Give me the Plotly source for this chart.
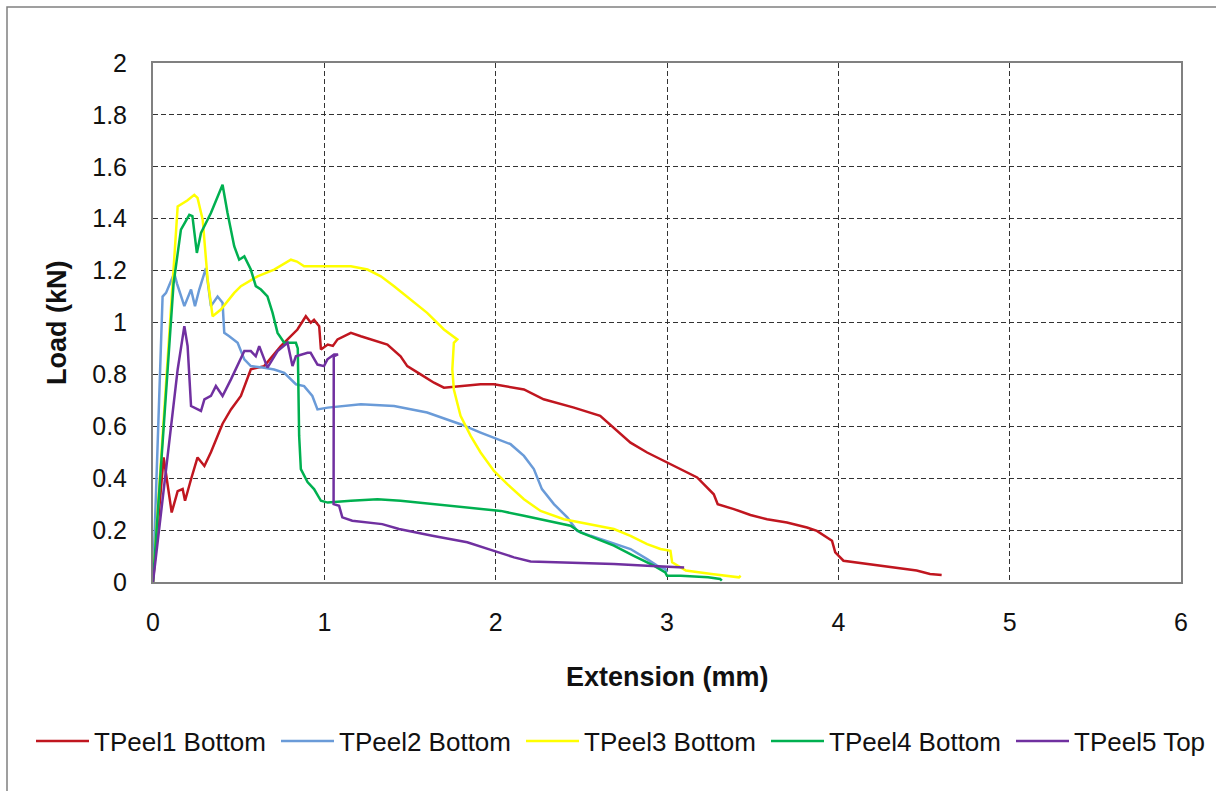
import plotly.graph_objects as go

# Load vs extension for five T-peel specimens
series_names = ["TPeel1 Bottom", "TPeel2 Bottom", "TPeel3 Bottom", "TPeel4 Bottom", "TPeel5 Top"]
series_colors = ["#C0161F", "#6A9BD8", "#FFFF00", "#00B050", "#7030A0"]

tpeel1_x = [0, 0.062, 0.109, 0.144, 0.173, 0.187, 0.222, 0.26, 0.30, 0.338, 0.406, 0.455, 0.513,
            0.571, 0.649, 0.746, 0.843, 0.892, 0.921, 0.94, 0.97, 0.98, 1.02, 1.05, 1.077, 1.155,
            1.213, 1.27, 1.368, 1.445, 1.484, 1.562, 1.64, 1.698, 1.795, 1.912, 1.99, 2.165, 2.28,
            2.457, 2.61, 2.69, 2.787, 2.884, 3.0, 3.176, 3.273, 3.296, 3.39, 3.487, 3.584, 3.7,
            3.817, 3.875, 3.963, 3.982, 4.03, 4.127, 4.263, 4.36, 4.457, 4.535, 4.603]
tpeel1_y = [0, 0.48, 0.268, 0.35, 0.358, 0.313, 0.396, 0.48, 0.447, 0.5, 0.61, 0.665, 0.717,
            0.82, 0.832, 0.909, 0.973, 1.024, 0.999, 1.01, 0.986, 0.896, 0.915, 0.91, 0.935, 0.96,
            0.947, 0.935, 0.915, 0.87, 0.832, 0.8, 0.768, 0.749, 0.755, 0.762, 0.762, 0.742, 0.704,
            0.672, 0.64, 0.595, 0.537, 0.499, 0.46, 0.403, 0.338, 0.3, 0.281, 0.258, 0.242, 0.229,
            0.21, 0.197, 0.159, 0.114, 0.082, 0.073, 0.06, 0.053, 0.044, 0.031, 0.027]

tpeel2_x = [0, 0.056, 0.076, 0.1, 0.124, 0.14, 0.183, 0.222, 0.245, 0.27, 0.309, 0.338, 0.377,
            0.406, 0.416, 0.445, 0.494, 0.533, 0.571, 0.649, 0.707, 0.766, 0.805, 0.834, 0.882,
            0.93, 0.96, 1.02, 1.213, 1.407, 1.6, 1.717, 1.795, 1.912, 1.99, 2.087, 2.165, 2.223,
            2.27, 2.34, 2.418, 2.476, 2.554, 2.67, 2.787, 2.884, 2.942, 2.99, 3.0]
tpeel2_y = [0, 1.10, 1.114, 1.15, 1.19, 1.15, 1.063, 1.127, 1.063, 1.127, 1.21, 1.063, 1.10,
            1.076, 0.96, 0.947, 0.922, 0.858, 0.832, 0.826, 0.819, 0.806, 0.781, 0.762, 0.755,
            0.717, 0.665, 0.672, 0.685, 0.678, 0.653, 0.627, 0.608, 0.576, 0.556, 0.531, 0.486,
            0.435, 0.358, 0.3, 0.249, 0.197, 0.178, 0.153, 0.127, 0.088, 0.063, 0.05, 0.037]

tpeel3_x = [0, 0.144, 0.2, 0.241, 0.26, 0.29, 0.319, 0.348, 0.396, 0.474, 0.513, 0.61, 0.707,
            0.805, 0.84, 0.882, 1.018, 1.155, 1.252, 1.33, 1.407, 1.504, 1.6, 1.698, 1.776, 1.756,
            1.747, 1.756, 1.795, 1.854, 1.912, 1.99, 2.068, 2.165, 2.262, 2.398, 2.554, 2.69,
            2.787, 2.884, 2.962, 3.02, 3.03, 3.11, 3.26, 3.42, 3.43]
tpeel3_y = [0, 1.447, 1.47, 1.492, 1.48, 1.396, 1.165, 1.024, 1.05, 1.114, 1.14, 1.178, 1.204,
            1.242, 1.235, 1.217, 1.217, 1.217, 1.204, 1.178, 1.14, 1.088, 1.037, 0.973, 0.935, 0.922,
            0.819, 0.742, 0.64, 0.563, 0.499, 0.428, 0.377, 0.319, 0.274, 0.242, 0.223, 0.204,
            0.178, 0.146, 0.127, 0.12, 0.076, 0.044, 0.031, 0.018, 0.024]

tpeel4_x = [0, 0.12, 0.163, 0.212, 0.23, 0.256, 0.28, 0.338, 0.406, 0.435, 0.474, 0.503, 0.533,
            0.571, 0.6, 0.63, 0.668, 0.698, 0.727, 0.766, 0.834, 0.845, 0.853, 0.863, 0.902, 0.94,
            0.98, 1.02, 1.155, 1.31, 1.445, 1.64, 1.834, 2.03, 2.165, 2.301, 2.437, 2.495, 2.593,
            2.69, 2.806, 2.923, 2.99, 3.0, 3.08, 3.24, 3.31, 3.32]
tpeel4_y = [0, 1.15, 1.358, 1.415, 1.41, 1.268, 1.345, 1.422, 1.531, 1.422, 1.294, 1.242, 1.255,
            1.204, 1.14, 1.127, 1.101, 1.037, 0.96, 0.922, 0.922, 0.9, 0.563, 0.435, 0.385, 0.358,
            0.313, 0.306, 0.313, 0.319, 0.313, 0.3, 0.287, 0.274, 0.255, 0.236, 0.217, 0.191, 0.165,
            0.14, 0.101, 0.063, 0.037, 0.024, 0.024, 0.018, 0.012, 0.005]

tpeel5_x = [0, 0.144, 0.183, 0.202, 0.222, 0.26, 0.28, 0.3, 0.338, 0.367, 0.406, 0.455, 0.533,
            0.571, 0.6, 0.62, 0.668, 0.727, 0.785, 0.814, 0.834, 0.902, 0.92, 0.96, 0.998, 1.018,
            1.057, 1.08, 1.055, 1.054, 1.086, 1.105, 1.163, 1.338, 1.436, 1.63, 1.834, 1.99, 2.107,
            2.204, 2.398, 2.69, 2.884, 3.0, 3.1]
tpeel5_y = [0, 0.819, 0.986, 0.909, 0.678, 0.665, 0.659, 0.704, 0.717, 0.755, 0.717, 0.781, 0.89,
            0.89, 0.87, 0.909, 0.826, 0.89, 0.922, 0.832, 0.87, 0.883, 0.883, 0.838, 0.832, 0.858,
            0.877, 0.877, 0.87, 0.3, 0.294, 0.249, 0.236, 0.223, 0.204, 0.178, 0.153, 0.12, 0.095,
            0.079, 0.076, 0.069, 0.063, 0.06, 0.056]

x_data = [tpeel1_x, tpeel2_x, tpeel3_x, tpeel4_x, tpeel5_x]
y_data = [tpeel1_y, tpeel2_y, tpeel3_y, tpeel4_y, tpeel5_y]
# the last entry sits in its own legend box so the row never wraps
legend_ids = ["legend", "legend", "legend", "legend", "legend2"]

fig = go.Figure()
for name, color, xs, ys, lg in zip(series_names, series_colors, x_data, y_data, legend_ids):
    fig.add_trace(go.Scatter(x=xs, y=ys, mode="lines", name=name, legend=lg,
                             line=dict(color=color, width=2.5)))

FONT = "Liberation Sans, Arial, sans-serif"
grid_dash = "5px,3px"
PLOT_L, PLOT_W, PLOT_B, PLOT_H = 153, 1028, 582, 519


def px_x(p):
    return (p - PLOT_L) / PLOT_W


def px_y(p):
    return (PLOT_B - p) / PLOT_H


legend_common = dict(orientation="h", yanchor="middle", y=px_y(741), xanchor="left",
                     font=dict(size=26, family=FONT, color="#111111"),
                     bgcolor="rgba(0,0,0,0)", itemwidth=53, entrywidth=177, tracegroupgap=0)

fig.update_layout(
    width=1216, height=791,
    margin=dict(l=PLOT_L, r=1216 - PLOT_L - PLOT_W, t=PLOT_B - PLOT_H, b=791 - PLOT_B,
                autoexpand=False),
    paper_bgcolor="white", plot_bgcolor="white",
    font=dict(family=FONT, color="#111111"),
    showlegend=True,
    legend=dict(x=px_x(31), **legend_common),
    legend2=dict(x=px_x(31 + 4 * 245), **legend_common),
    xaxis=dict(range=[0, 6], dtick=1, tick0=0, showgrid=True, gridcolor="#333333",
               gridwidth=1.2, griddash=grid_dash, zeroline=False, showline=True,
               linecolor="#808080", linewidth=2, mirror=True, ticks="",
               ticklabelstandoff=17, tickfont=dict(size=25, family=FONT, color="#111111")),
    yaxis=dict(range=[0, 2], dtick=0.2, tick0=0, showgrid=True, gridcolor="#333333",
               gridwidth=1.2, griddash=grid_dash, zeroline=False, showline=True,
               linecolor="#808080", linewidth=2, mirror=True, ticks="",
               ticklabelstandoff=19, tickfont=dict(size=25, family=FONT, color="#111111")),
    annotations=[
        dict(text="<b>Extension (mm)</b>", xref="paper", yref="paper",
             x=px_x(667), y=px_y(677), xanchor="center", yanchor="middle",
             showarrow=False, font=dict(size=27, family=FONT, color="#111111")),
        dict(text="<b>Load (kN)</b>", xref="paper", yref="paper",
             x=px_x(57), y=px_y(323), xanchor="center", yanchor="middle",
             textangle=-90, showarrow=False, font=dict(size=27, family=FONT, color="#111111")),
    ],
    shapes=[
        dict(type="rect", xref="paper", yref="paper",
             x0=px_x(7), x1=px_x(1225), y0=px_y(820), y1=px_y(7),
             line=dict(color="#808080", width=1.5), fillcolor="rgba(0,0,0,0)", layer="below"),
    ],
)

fig.write_html("out.html")
